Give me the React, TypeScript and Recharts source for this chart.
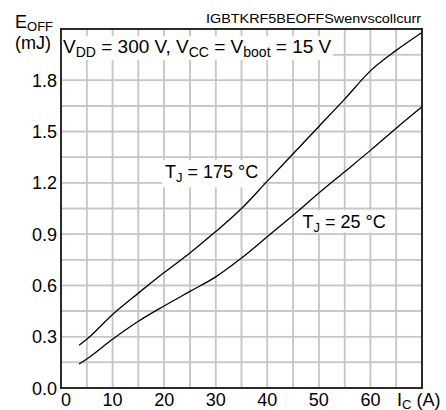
import { LineChart, Line, XAxis, YAxis, CartesianGrid, ReferenceArea } from "recharts";

const currents = [3.5, 5, 10, 15, 20, 25, 30, 35, 40, 45, 50, 55, 60, 65, 70];
const eoff175 = [0.25, 0.285, 0.43, 0.555, 0.675, 0.79, 0.915, 1.05, 1.21, 1.37, 1.53, 1.69, 1.855, 1.975, 2.08];
const eoff25 = [0.14, 0.17, 0.285, 0.39, 0.48, 0.565, 0.65, 0.76, 0.885, 1.01, 1.14, 1.265, 1.39, 1.52, 1.645];

const xTicks = [0, 5, 10, 15, 20, 25, 30, 35, 40, 45, 50, 55, 60, 65, 70];
const yTicks = [0, 0.15, 0.3, 0.45, 0.6, 0.75, 0.9, 1.05, 1.2, 1.35, 1.5, 1.65, 1.8, 1.95, 2.1];

const data = currents.map((ic, i) => ({ ic, t175: eoff175[i], t25: eoff25[i] }));

const FONT = "'Liberation Sans', Arial, sans-serif";

// plot box in page pixels (matches the chart margins below)
const PL = 61, PT = 29, PW = 361, PH = 359;
const px = (v: number) => PL + (v / 70) * PW;
const py = (v: number) => PT + PH - (v / 2.1) * PH;

function XTick({ x, y, payload }: any) {
  const v = payload.value;
  if (v === 70) {
    return (
      <text x={x - 25} y={y + 17.5} fontSize={18} fontFamily={FONT} fill="#000">
        I<tspan fontSize={13} dy={3}>C</tspan>
        <tspan dy={-3}> (A)</tspan>
      </text>
    );
  }
  if (v % 10 !== 0) return null;
  return (
    <text x={v === 0 ? x + 5 : x} y={y + 18} fontSize={18} fontFamily={FONT} textAnchor="middle" fill="#000">
      {v}
    </text>
  );
}

function YTick({ x, y, payload }: any) {
  const v = payload.value;
  const k = Math.round(v * 100);
  if (k % 30 !== 0 || k > 180) return null;
  return (
    <text x={x} y={y + 6.5} fontSize={18} fontFamily={FONT} textAnchor="end" fill="#000">
      {v.toFixed(1)}
    </text>
  );
}

// grid drawn as thin filled bars behind the chart
function Backdrop() {
  return (
    <svg width={446} height={410} style={{ position: "absolute", left: 0, top: 0 }}>
      {xTicks.map((t) => (
        <rect key={"v" + t} x={px(t) - 0.75} y={PT} width={1.5} height={PH} fill="#c6c6c6" />
      ))}
      {yTicks.map((t) => (
        <rect key={"h" + t} x={PL} y={py(t) - 0.75} width={PW} height={1.5} fill="#c6c6c6" />
      ))}
    </svg>
  );
}

// texts and plot frame, laid over the chart
function Overlay() {
  const w = 1.8;
  return (
    <svg
      width={446}
      height={410}
      style={{ position: "absolute", left: 0, top: 0, pointerEvents: "none" }}
      fontFamily={FONT}
    >
      <rect x={PL - w / 2} y={PT - w / 2} width={PW + w} height={w} fill="#1a1a1a" />
      <rect x={PL - w / 2} y={PT + PH - w / 2} width={PW + w} height={w} fill="#1a1a1a" />
      <rect x={PL - w / 2} y={PT - w / 2} width={w} height={PH + w} fill="#1a1a1a" />
      <rect x={PL + PW - w / 2} y={PT - w / 2} width={w} height={PH + w} fill="#1a1a1a" />
      <text x={15} y={28} fontSize={18}>
        E<tspan fontSize={13} dy={3}>OFF</tspan>
      </text>
      <text x={15} y={49} fontSize={18}>(mJ)</text>
      <text x={206} y={23} fontSize={12} textLength={215} lengthAdjust="spacingAndGlyphs">
        IGBTKRF5BEOFFSwenvscollcurr
      </text>
      <text x={63} y={53} fontSize={19}>
        V<tspan fontSize={14} dy={4}>DD</tspan>
        <tspan dy={-4}> = 300 V, V</tspan>
        <tspan fontSize={14} dy={4}>CC</tspan>
        <tspan dy={-4}> = V</tspan>
        <tspan fontSize={14} dy={4}>boot</tspan>
        <tspan dy={-4}> = 15 V</tspan>
      </text>
      <text x={165} y={178} fontSize={18}>
        T<tspan fontSize={13} dy={4}>J</tspan>
        <tspan dy={-4}> = 175 °C</tspan>
      </text>
      <text x={302.5} y={227.5} fontSize={18}>
        T<tspan fontSize={13} dy={4}>J</tspan>
        <tspan dy={-4}> = 25 °C</tspan>
      </text>
    </svg>
  );
}

export default function App() {
  return (
    <div style={{ position: "absolute", left: 0, top: 0, width: 446, height: 410, background: "#fff" }}>
      <Backdrop />
      <LineChart width={446} height={410} data={data} margin={{ top: PT, right: 446 - PL - PW, left: 0, bottom: 0 }}>
        <CartesianGrid stroke="#c6c6c6" strokeWidth={1.5} />
        <XAxis
          dataKey="ic"
          type="number"
          domain={[0, 70]}
          ticks={xTicks}
          height={22}
          axisLine={false}
          tickSize={0}
          tickMargin={0}
          tick={<XTick />}
          interval={0}
        />
        <YAxis
          type="number"
          domain={[0, 2.1]}
          ticks={yTicks}
          width={PL}
          axisLine={false}
          tickSize={0}
          tickMargin={4}
          tick={<YTick />}
          interval={0}
        />
        {/* white boxes behind the annotations */}
        <ReferenceArea x1={0} x2={52.7} y1={1.918} y2={2.058} fill="#fff" fillOpacity={1} stroke="none" />
        <ReferenceArea x1={19.6} x2={39} y1={1.175} y2={1.333} fill="#fff" fillOpacity={1} stroke="none" />
        <ReferenceArea x1={46.4} x2={63.8} y1={0.91} y2={1.04} fill="#fff" fillOpacity={1} stroke="none" />
        <Line type="monotone" dataKey="t175" stroke="#000" strokeWidth={1.3} dot={false} isAnimationActive={false} />
        <Line type="monotone" dataKey="t25" stroke="#000" strokeWidth={1.3} dot={false} isAnimationActive={false} />
      </LineChart>
      <Overlay />
    </div>
  );
}
